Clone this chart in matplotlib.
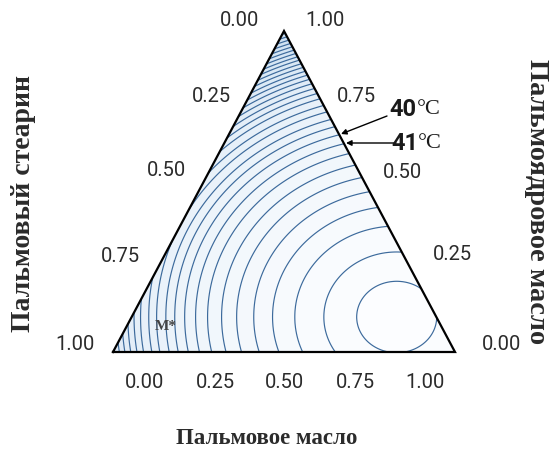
import numpy as np
import matplotlib
matplotlib.use("Agg")
import matplotlib.pyplot as plt
from matplotlib.colors import LinearSegmentedColormap

# contour rings: temperature (°C) and distance from the optimum (fraction of the base)
ring_temps = [50, 49, 48, 47, 46, 45, 44, 43, 42, 41, 40, 39, 38, 37, 36, 35,
              34, 33, 32, 31, 30, 29, 28, 27, 26, 25, 24, 23, 22, 21, 20, 19,
              18, 17, 16]
ring_radii = [0.000, 0.117, 0.213, 0.298, 0.363, 0.418, 0.468, 0.512, 0.553,
              0.588, 0.620, 0.649, 0.675, 0.702, 0.725, 0.749, 0.768, 0.786,
              0.803, 0.819, 0.834, 0.848, 0.862, 0.875, 0.888, 0.900, 0.912,
              0.924, 0.936, 0.948, 0.960, 0.972, 0.984, 0.996, 1.100]
# optimum composition (palm oil, kernel oil)
opt_palm = 0.775
opt_kernel = 0.109

tick_values = [0.00, 0.25, 0.50, 0.75, 1.00]
tick_labels = ["0.00", "0.25", "0.50", "0.75", "1.00"]

W, H = 555, 450
fig = plt.figure(figsize=(W / 100, H / 100), dpi=100)
ax = fig.add_axes([113 / W, (H - 352) / H, 342 / W, 321 / H])
ax.set_xlim(0, 1)
ax.set_ylim(0, 1)
ax.axis("off")


def px(x, y):
    """pixel position -> axes data coords"""
    return (x - 113) / 342, (352 - y) / 321


# grid in cartesian triangle coords, K on y, P + K/2 on x
xs = np.linspace(0, 1, 700)
ys = np.linspace(0, 1, 700)
X, Y = np.meshgrid(xs, ys)
P = X - Y / 2
S = 1 - P - Y
outside = (P < -1e-9) | (S < -1e-9)

xc = opt_palm + opt_kernel / 2
dx = X - xc
dy = (Y - opt_kernel) * (321 / 342) * 1.12
R = np.hypot(dx, dy)
T = np.interp(R, ring_radii, ring_temps)
T = np.ma.masked_where(outside, T)

levels = sorted(ring_temps[1:-1])
cmap = LinearSegmentedColormap.from_list("pale", ["#c8ddf0", "#fdfeff"])
ax.contourf(X, Y, T, levels=[15] + levels + [50.5], cmap=cmap)
ax.contour(X, Y, T, levels=levels, colors="#3c6a9c", linewidths=0.85)

# triangle frame
ax.plot([0, 1, 0.5, 0], [0, 0, 1, 0], color="black", lw=1.6,
        solid_joinstyle="miter", clip_on=False)

tick_font = dict(family="Roboto", fontsize=14.5, color="#2b2b2b")
# bottom axis (palm oil)
for v, lab in zip(tick_values, tick_labels):
    x, y = px(145 + 280 * v, 383)
    ax.text(x, y, lab, ha="center", va="center", **tick_font)
# left axis (stearin)
left_pos = [(240, 21), (211, 96), (166, 171), (120, 256), (75, 345)]
for (lx, ly), lab in zip(left_pos, tick_labels):
    x, y = px(lx, ly)
    ax.text(x, y, lab, ha="center", va="center", **tick_font)
# right axis (kernel oil)
right_pos = [(502, 345), (452, 255), (402, 172), (356, 96), (325, 21)]
for (rx, ry), lab in zip(right_pos, tick_labels):
    x, y = px(rx, ry)
    ax.text(x, y, lab, ha="center", va="center", **tick_font)

title_font = dict(family="Liberation Serif", fontweight="bold", color="#2b2b2b")
x, y = px(267, 438)
ax.text(x, y, "Пальмовое масло", ha="center", va="center", fontsize=16.5, **title_font)
x, y = px(24, 204)
ax.text(x, y, "Пальмовый стеарин", ha="center", va="center", rotation=90,
        fontsize=20, **title_font)
x, y = px(536, 202)
ax.text(x, y, "Пальмоядровое масло", ha="center", va="center", rotation=-90,
        fontsize=20.5, **title_font)

# isotherm labels
for (tx, ty), (sx, sy), (ex, ey), num in [((417, 109), (387, 116), (341, 134), "40"),
                                           ((418, 144), (396, 143), (346, 143), "41")]:
    ax.annotate("", xy=px(ex, ey), xytext=px(sx, sy),
                arrowprops=dict(arrowstyle="-|>", color="black", lw=1,
                                mutation_scale=8, shrinkA=0, shrinkB=0))
    x, y = px(tx, ty)
    ax.text(x, y, num, ha="right", va="center", family="Roboto",
            fontweight="bold", fontsize=17, color="#1a1a1a")
    ax.text(x, y, "°C", ha="left", va="center", family="Liberation Serif",
            fontsize=16, color="#1a1a1a")

x, y = px(166, 326)
ax.text(x, y, "M*", ha="center", va="center", family="Liberation Serif",
        fontweight="bold", fontsize=11, color="#444444")

fig.savefig("out.png", dpi=100)
